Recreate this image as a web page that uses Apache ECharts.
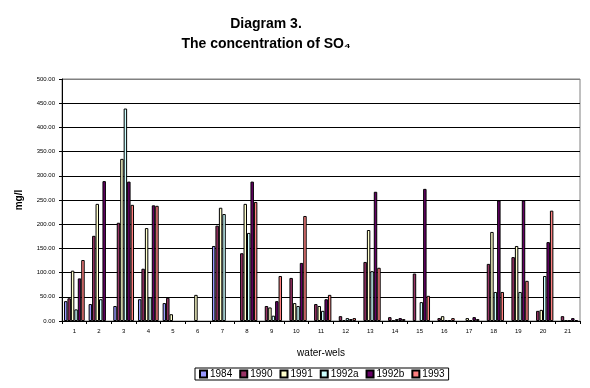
<!DOCTYPE html>
<html><head><meta charset="utf-8">
<script src="https://cdn.jsdelivr.net/npm/echarts@6/dist/echarts.min.js"></script>
<style>html,body{margin:0;padding:0;background:#fff}#c{width:590px;height:388px}</style>
</head><body><div id="c"></div>
<script>
var categories = ['1','2','3','4','5','6','7','8','9','10','11','12','13','14','15','16','17','18','19','20','21'];
var seriesNames = ['1984','1990','1991','1992a','1992b','1993'];
var v1984  = [41, 35, 31, 45, 37, null, 155, null, null, null, null, null, null, null, null, null, null, null, null, null, null];
var v1990  = [47, 176, 203, 108, 48, null, 197, 140, 31, 89, 35, 10, 122, 8, 98, 6, null, 118, 132, 21, 10];
var v1991  = [104, 242, 335, 192, 14, 54, 234, 242, 28, 37, 31, 2, 188, 1, null, 10, 6, 184, 155, 23, 1];
var v1992a = [24, 45, 439, 49, null, null, 221, 182, 11, 31, 21, 6, 103, 4, 39, 2, 2, 60, 60, 93, 1];
var v1992b = [88, 289, 288, 239, null, null, null, 288, 41, 120, 45, 4, 267, 6, 273, 2, 8, 249, 249, 163, 6];
var v1993  = [126, null, 240, 238, null, null, null, 246, 93, 217, 54, 6, 110, 4, 52, 6, 4, 60, 83, 228, 2];
var yTicks = [0, 50, 100, 150, 200, 250, 300, 350, 400, 450, 500];

var allValues = [v1984, v1990, v1991, v1992a, v1992b, v1993];
var colors = ['#9999FF', '#993366', '#FFFFCC', '#CCFFFF', '#660066', '#FF8080'];
var font = 'Arial, "Liberation Sans", sans-serif';

var chart = echarts.init(document.getElementById('c'), null, {renderer: 'canvas'});
var series = seriesNames.map(function (n, i) {
  return {
    name: n, type: 'bar', data: allValues[i],
    barGap: '0%', barCategoryGap: '16%',
    itemStyle: {color: colors[i], borderColor: '#000', borderWidth: 1},
    animation: false
  };
});
var splitColors = yTicks.map(function (t, i) { return i === yTicks.length - 1 ? '#808080' : '#000'; });

chart.setOption({
  animation: false,
  backgroundColor: '#fff',
  title: {
    text: 'Diagram 3.\nThe concentration of SO\u2084',
    left: 261, top: 9, textAlign: 'center',
    textStyle: {fontFamily: font, fontSize: 14, fontWeight: 'bold', color: '#000', lineHeight: 20}
  },
  legend: {
    data: seriesNames,
    left: 195, top: 368,
    itemWidth: 7, itemHeight: 7, itemGap: 7,
    padding: [1, 4, 1, 4],
    borderColor: '#000', borderWidth: 1,
    icon: 'rect',
    textStyle: {fontFamily: font, fontSize: 10, color: '#000', padding: [0, 0, 0, -2]}
  },
  grid: {left: 62, right: 10, top: 79, bottom: 67, show: true, borderColor: '#808080', borderWidth: 1, backgroundColor: 'transparent'},
  xAxis: {
    type: 'category', data: categories,
    name: 'water-wels', nameLocation: 'middle', nameGap: 27,
    nameTextStyle: {fontFamily: font, fontSize: 10, color: '#000'},
    axisLine: {lineStyle: {color: '#000', width: 1}},
    axisTick: {show: true, length: 3, lineStyle: {color: '#000'}},
    axisLabel: {fontFamily: font, fontSize: 6, color: '#000', margin: 7}
  },
  yAxis: {
    type: 'value', min: 0, max: 500, interval: 50,
    name: 'mg/l', nameLocation: 'middle', nameGap: 38, nameRotate: 90,
    nameTextStyle: {fontFamily: font, fontSize: 10, fontWeight: 'bold', color: '#000'},
    axisLine: {show: true, lineStyle: {color: '#000', width: 1}},
    axisTick: {show: true, length: 3, lineStyle: {color: '#000'}},
    axisLabel: {fontFamily: font, fontSize: 6, color: '#000', margin: 7,
      formatter: function (v) { return v.toFixed(2); }},
    splitLine: {show: true, lineStyle: {color: splitColors, width: 1}}
  },
  series: series
});
</script></body></html>
